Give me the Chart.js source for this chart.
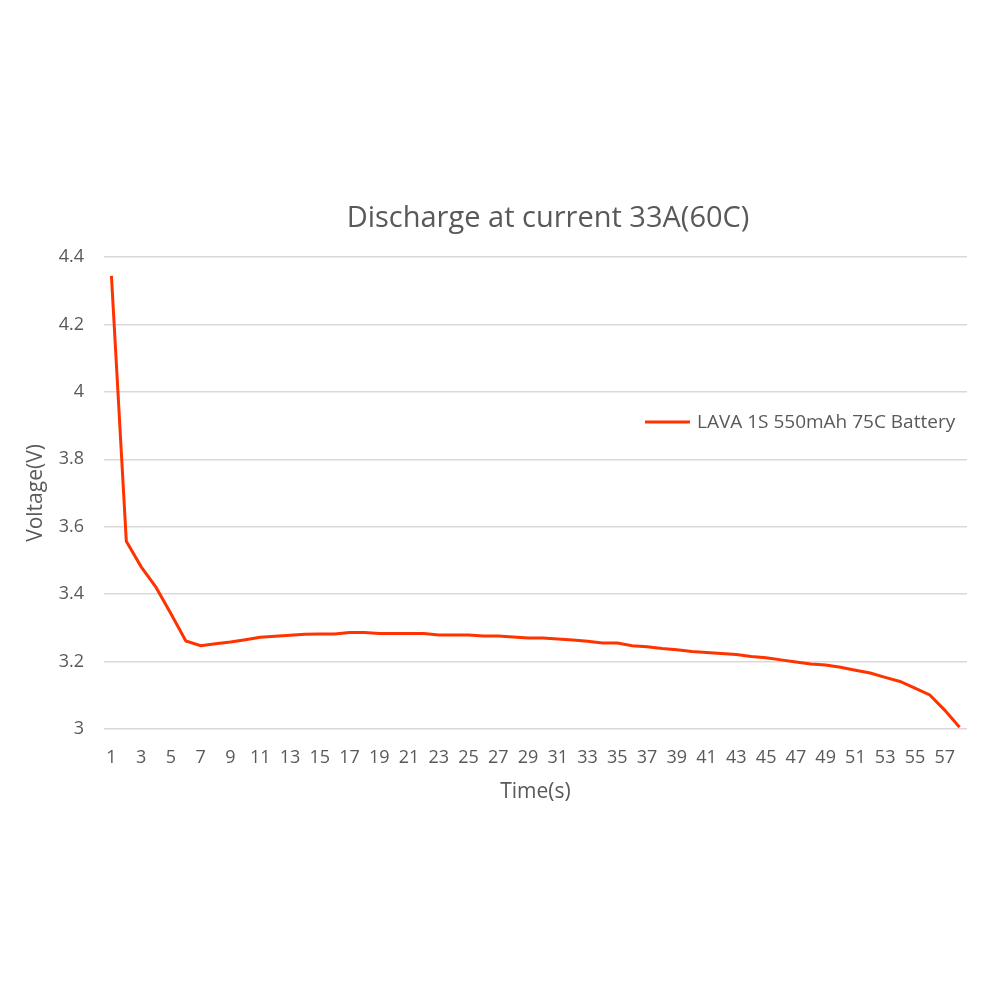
<!DOCTYPE html>
<html>
<head>
<meta charset="utf-8">
<script src="https://cdn.jsdelivr.net/npm/chart.js@4.4.0/dist/chart.umd.min.js"></script>
<style>
    html, body { margin: 0; padding: 0; background: #ffffff; }
    #wrap { width: 1000px; height: 1000px; }
</style>
</head>
<body>
<div id="wrap"><canvas id="dischargeChart" width="1000" height="1000"></canvas></div>
<script>
// Chart data
const chartTitle = 'Discharge at current 33A(60C)';
const seriesLabel = 'LAVA 1S 550mAh 75C Battery';
const xAxisTitle = 'Time(s)';
const yAxisTitle = 'Voltage(V)';

const timeSeconds = [
    1, 2, 3, 4, 5, 6, 7, 8, 9, 10,
    11, 12, 13, 14, 15, 16, 17, 18, 19, 20,
    21, 22, 23, 24, 25, 26, 27, 28, 29, 30,
    31, 32, 33, 34, 35, 36, 37, 38, 39, 40,
    41, 42, 43, 44, 45, 46, 47, 48, 49, 50,
    51, 52, 53, 54, 55, 56, 57, 58
];

const voltage = [
    4.344, 3.557, 3.481, 3.420, 3.342, 3.261, 3.247, 3.253, 3.258, 3.265,
    3.272, 3.275, 3.278, 3.281, 3.282, 3.282, 3.286, 3.286, 3.283, 3.283,
    3.283, 3.283, 3.279, 3.279, 3.279, 3.276, 3.276, 3.273, 3.270, 3.270,
    3.267, 3.264, 3.260, 3.255, 3.255, 3.247, 3.244, 3.239, 3.235, 3.230,
    3.227, 3.224, 3.221, 3.215, 3.211, 3.205, 3.199, 3.193, 3.190, 3.183,
    3.174, 3.166, 3.153, 3.141, 3.121, 3.101, 3.056, 3.005
];

const yMin = 3;
const yMax = 4.4;
const yStep = 0.2;

const FONT = '"Open Sans", "Noto Sans", sans-serif';
const TEXT_COLOR = '#595959';
const LINE_COLOR = '#ff3300';

// title and legend drawn by hand to match the original placement
const titleAndLegend = {
    id: 'titleAndLegend',
    afterDraw(chart) {
        const ctx = chart.ctx;
        ctx.save();
        ctx.fillStyle = TEXT_COLOR;
        ctx.font = '29px ' + FONT;
        ctx.textAlign = 'center';
        ctx.textBaseline = 'middle';
        ctx.fillText(chartTitle, 548, 219);

        const ds = chart.data.datasets[0];
        ctx.strokeStyle = ds.borderColor;
        ctx.lineWidth = 3;
        ctx.beginPath();
        ctx.moveTo(645, 422);
        ctx.lineTo(690, 422);
        ctx.stroke();

        ctx.font = '19px ' + FONT;
        ctx.textAlign = 'left';
        ctx.fillText(ds.label, 697, 423);
        ctx.restore();
    }
};

document.addEventListener('DOMContentLoaded', function() {
    const ctx = document.getElementById('dischargeChart');

    new Chart(ctx, {
        type: 'line',
        data: {
            labels: timeSeconds,
            datasets: [{
                label: seriesLabel,
                data: voltage,
                borderColor: LINE_COLOR,
                backgroundColor: LINE_COLOR,
                borderWidth: 3,
                pointRadius: 0,
                tension: 0,
                fill: false
            }]
        },
        options: {
            responsive: false,
            animation: false,
            layout: {
                padding: { left: 0, right: 33, top: 257, bottom: 191 }
            },
            scales: {
                x: {
                    type: 'category',
                    offset: true,
                    grid: { display: false, drawTicks: false },
                    border: { display: false },
                    ticks: {
                        autoSkip: false,
                        maxRotation: 0,
                        padding: 18,
                        color: TEXT_COLOR,
                        font: { family: FONT, size: 18 },
                        callback: function(value, index) {
                            return index % 2 === 0 ? this.getLabelForValue(value) : '';
                        }
                    },
                    title: {
                        display: true,
                        text: xAxisTitle,
                        color: TEXT_COLOR,
                        font: { family: FONT, size: 21 },
                        padding: { top: 0, bottom: 4 }
                    },
                    afterFit: function(scale) {
                        scale.height = 80;
                    }
                },
                y: {
                    min: yMin,
                    max: yMax,
                    grid: { color: '#d9d9d9', lineWidth: 1.5, drawTicks: false },
                    border: { display: false },
                    ticks: {
                        stepSize: yStep,
                        padding: 20,
                        color: TEXT_COLOR,
                        font: { family: FONT, size: 18 },
                        callback: function(value) {
                            return String(Number(value.toFixed(1)));
                        }
                    },
                    title: {
                        display: true,
                        text: yAxisTitle,
                        color: TEXT_COLOR,
                        font: { family: FONT, size: 21 },
                        padding: { top: 23, bottom: 0 }
                    },
                    afterFit: function(scale) {
                        scale.width = 104;
                    }
                }
            },
            plugins: {
                legend: { display: false },
                title: { display: false },
                tooltip: { enabled: false }
            }
        },
        plugins: [titleAndLegend]
    });
});
</script>
</body>
</html>
